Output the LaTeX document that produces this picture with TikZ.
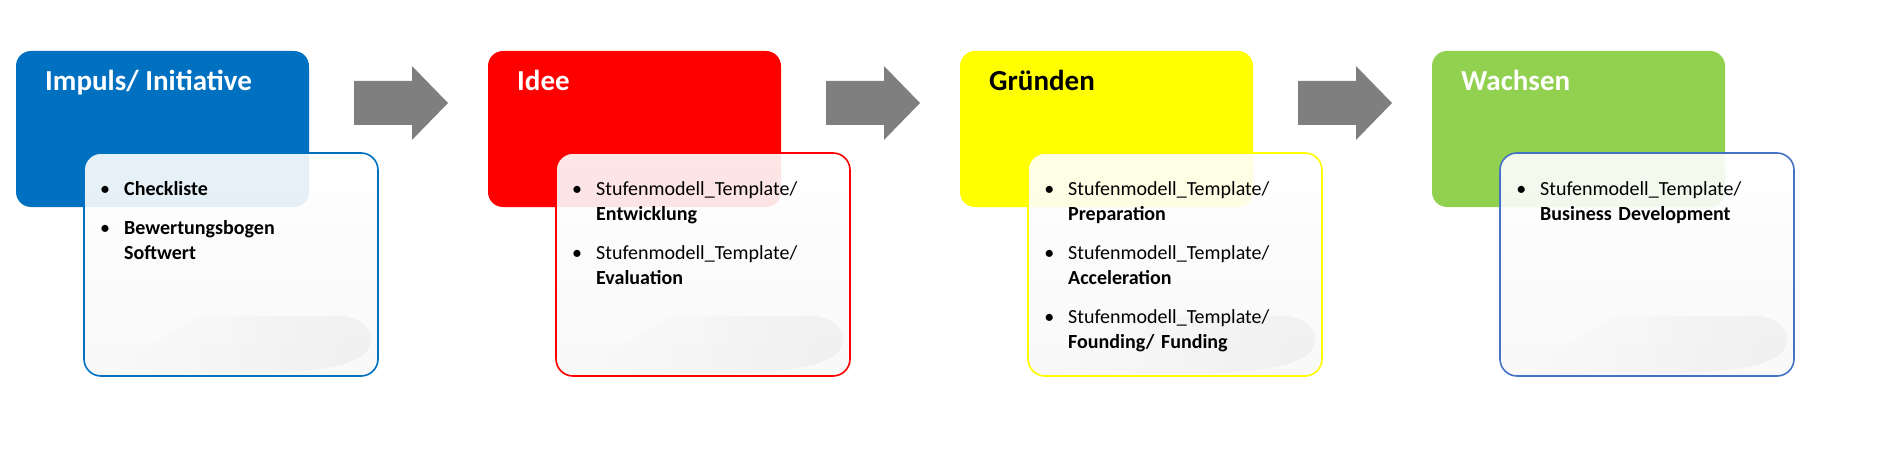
\documentclass[tikz,border=0pt]{standalone}
\usepackage{fontspec}
\setmainfont{Carlito}
\usepackage{enumitem}
\usetikzlibrary{fadings}
\definecolor{cblue}{HTML}{0070C0}
\definecolor{cred}{HTML}{FF0000}
\definecolor{cyel}{HTML}{FFFF00}
\definecolor{cgreen}{HTML}{92D050}
\definecolor{cgbord}{HTML}{4472C4}
\definecolor{carrow}{HTML}{7F7F7F}
\tikzset{
  x=1pt,y=1pt,
  head/.style={rounded corners=15pt},
  card/.style={rounded corners=17pt,line width=1.6pt,top color=white,bottom color=gray!6,fill opacity=0.9},
  title/.style={anchor=base west,inner sep=0,text=white,font=\fontsize{29}{34}\selectfont\bfseries},
  body/.style={anchor=north west,inner sep=0,text width=250pt,align=left,font=\fontsize{20}{25}\selectfont},
  flow/.style={fill=carrow,draw=none},
}
\setlist[itemize]{leftmargin=25pt,labelsep=14pt,itemsep=14pt,parsep=0pt,topsep=0pt,partopsep=0pt,label=\textbullet}
\newcommand{\stage}[7]{%
  % #1 x offset, #2 fill, #3 border, #4 title, #5 items, #6 name, #7 title colour
  \begin{scope}[shift={(#1,0)}]
    \fill[gray!70,path fading=west] (110,88) .. controls (250,80) and (330,80) .. (362,100)
      .. controls (380,115) and (370,135) .. (345,140) -- (200,140) -- cycle;
    \fill[#2,head] (16,249) rectangle (309,405);
    \node[title,text=#7] (#6t) at (45,365) {#4};
    \path[card,draw=#3] (84,80) rectangle (378,303);
    \coordinate (#6b) at (84,303);
    \node[body] (#6i) at (99,286) {\begin{itemize}#5\end{itemize}};
  \end{scope}}
\begin{document}
\begin{tikzpicture}
\useasboundingbox (0,0) rectangle (1888,456);
\stage{0}{cblue}{cblue}{Impuls/ Initiative}{\item \textbf{Checkliste}\item \textbf{Bewertungsbogen Softwert}}{s1}{white}
\stage{472}{cred}{cred}{Idee}{\item Stufenmodell\_Template/ \textbf{Entwicklung}\item Stufenmodell\_Template/ \textbf{Evaluation}}{s2}{white}
\stage{944}{cyel}{cyel}{Gründen}{\item Stufenmodell\_Template/ \textbf{Preparation}\item Stufenmodell\_Template/ \textbf{Acceleration}\item Stufenmodell\_Template/ \textbf{Founding/ Funding}}{s3}{black}
\stage{1416}{cgreen}{cgbord}{Wachsen}{\item Stufenmodell\_Template/ \textbf{Business Development}}{s4}{white}
\foreach \i in {0,1,2} {
  \begin{scope}[shift={(\i*472,0)}]
    \fill[flow] (354,331) -- (412,331) -- (412,316) -- (448,353) -- (412,390) -- (412,375) -- (354,375) -- cycle;
  \end{scope}}
\end{tikzpicture}
\end{document}
